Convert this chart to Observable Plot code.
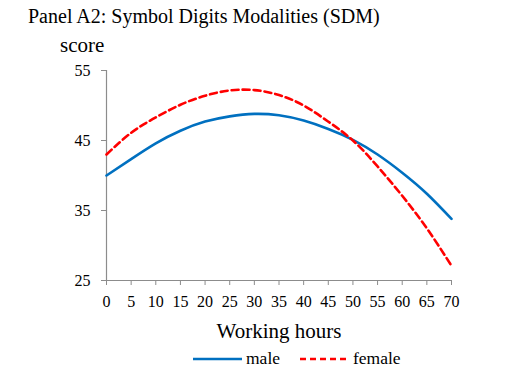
<!DOCTYPE html>
<html>
<head>
<meta charset="utf-8">
<script src="https://cdn.jsdelivr.net/npm/d3@7"></script>
<script src="https://cdn.jsdelivr.net/npm/@observablehq/plot@0.6"></script>
<style>
  html, body { margin: 0; padding: 0; background: #fff; }
  #chart svg { display: block; }
  #chart svg, #chart svg text { font-family: "Liberation Serif", "Times New Roman", serif !important; }
</style>
</head>
<body>
<div id="chart"></div>
<script>
const hours = [0, 5, 10, 15, 20, 25, 30, 35, 40, 45, 50, 55, 60, 65, 70];
const male = [40.0, 42.35, 44.6, 46.4, 47.7, 48.45, 48.8, 48.6, 47.85, 46.65, 45.1, 43.0, 40.4, 37.4, 33.8];
const female = [43.0, 46.1, 48.3, 50.1, 51.4, 52.15, 52.2, 51.5, 50.0, 47.7, 45.0, 41.3, 37.1, 32.45, 27.1];
const yTicks = [25, 35, 45, 55];
const xTicks = [0, 5, 10, 15, 20, 25, 30, 35, 40, 45, 50, 55, 60, 65, 70];
const seriesNames = ["male", "female"];
const seriesColors = ["#0070C0", "#FF0000"];
const titleText = "Panel A2: Symbol Digits Modalities (SDM)";
const yLabel = "score";
const xLabel = "Working hours";

const maleData = hours.map((h, i) => ({h, v: male[i]}));
const femaleData = hours.map((h, i) => ({h, v: female[i]}));

const font = "Liberation Serif, Times New Roman, serif";
const W = 513, H = 374;
const plot = Plot.plot({
  width: W,
  height: H,
  marginLeft: 106,
  marginRight: 62,
  marginTop: 70,
  marginBottom: 94,
  style: {fontFamily: font, fontSize: "16px", color: "black", background: "white"},
  x: {domain: [0, 70]},
  y: {domain: [25, 55]},
  marks: [
    Plot.axisY(yTicks, {anchor: "left", tickSize: 5, tickPadding: 11, stroke: "#8c8c8c", fill: "black", label: null, fontSize: 16}),
    Plot.axisX(xTicks, {anchor: "bottom", tickSize: 5, tickPadding: 10, stroke: "#8c8c8c", fill: "black", label: null, fontSize: 16}),
    Plot.ruleX([0], {y1: 25, y2: 55, stroke: "#8c8c8c", strokeWidth: 1.2}),
    Plot.ruleY([25], {x1: 0, x2: 70, stroke: "#8c8c8c", strokeWidth: 1.2}),
    Plot.line(maleData, {x: "h", y: "v", stroke: seriesColors[0], strokeWidth: 2.6, curve: "natural"}),
    Plot.line(femaleData, {x: "h", y: "v", stroke: seriesColors[1], strokeWidth: 2.6, strokeDasharray: "7,4", curve: "natural"})
  ]
});
document.getElementById("chart").appendChild(plot);

const svg = d3.select(plot);
function addText(x, y, size, txt, anchor) {
  svg.append("text").attr("x", x).attr("y", y)
    .attr("text-anchor", anchor || "start")
    .attr("font-size", size)
    .attr("fill", "black").text(txt);
}
addText(28, 23, 20, titleText);
addText(60, 52, 21, yLabel);
addText(279, 338, 21, xLabel, "middle");

const legend = [
  {x1: 193, x2: 242, tx: 246, dash: null},
  {x1: 300, x2: 347, tx: 353, dash: "6,4"}
];
legend.forEach((l, i) => {
  const ln = svg.append("line").attr("x1", l.x1).attr("x2", l.x2).attr("y1", 359).attr("y2", 359)
    .attr("stroke", seriesColors[i]).attr("stroke-width", 2.6);
  if (l.dash) ln.attr("stroke-dasharray", l.dash);
  addText(l.tx, 364, 17.5, seriesNames[i]);
});
</script>
</body>
</html>
